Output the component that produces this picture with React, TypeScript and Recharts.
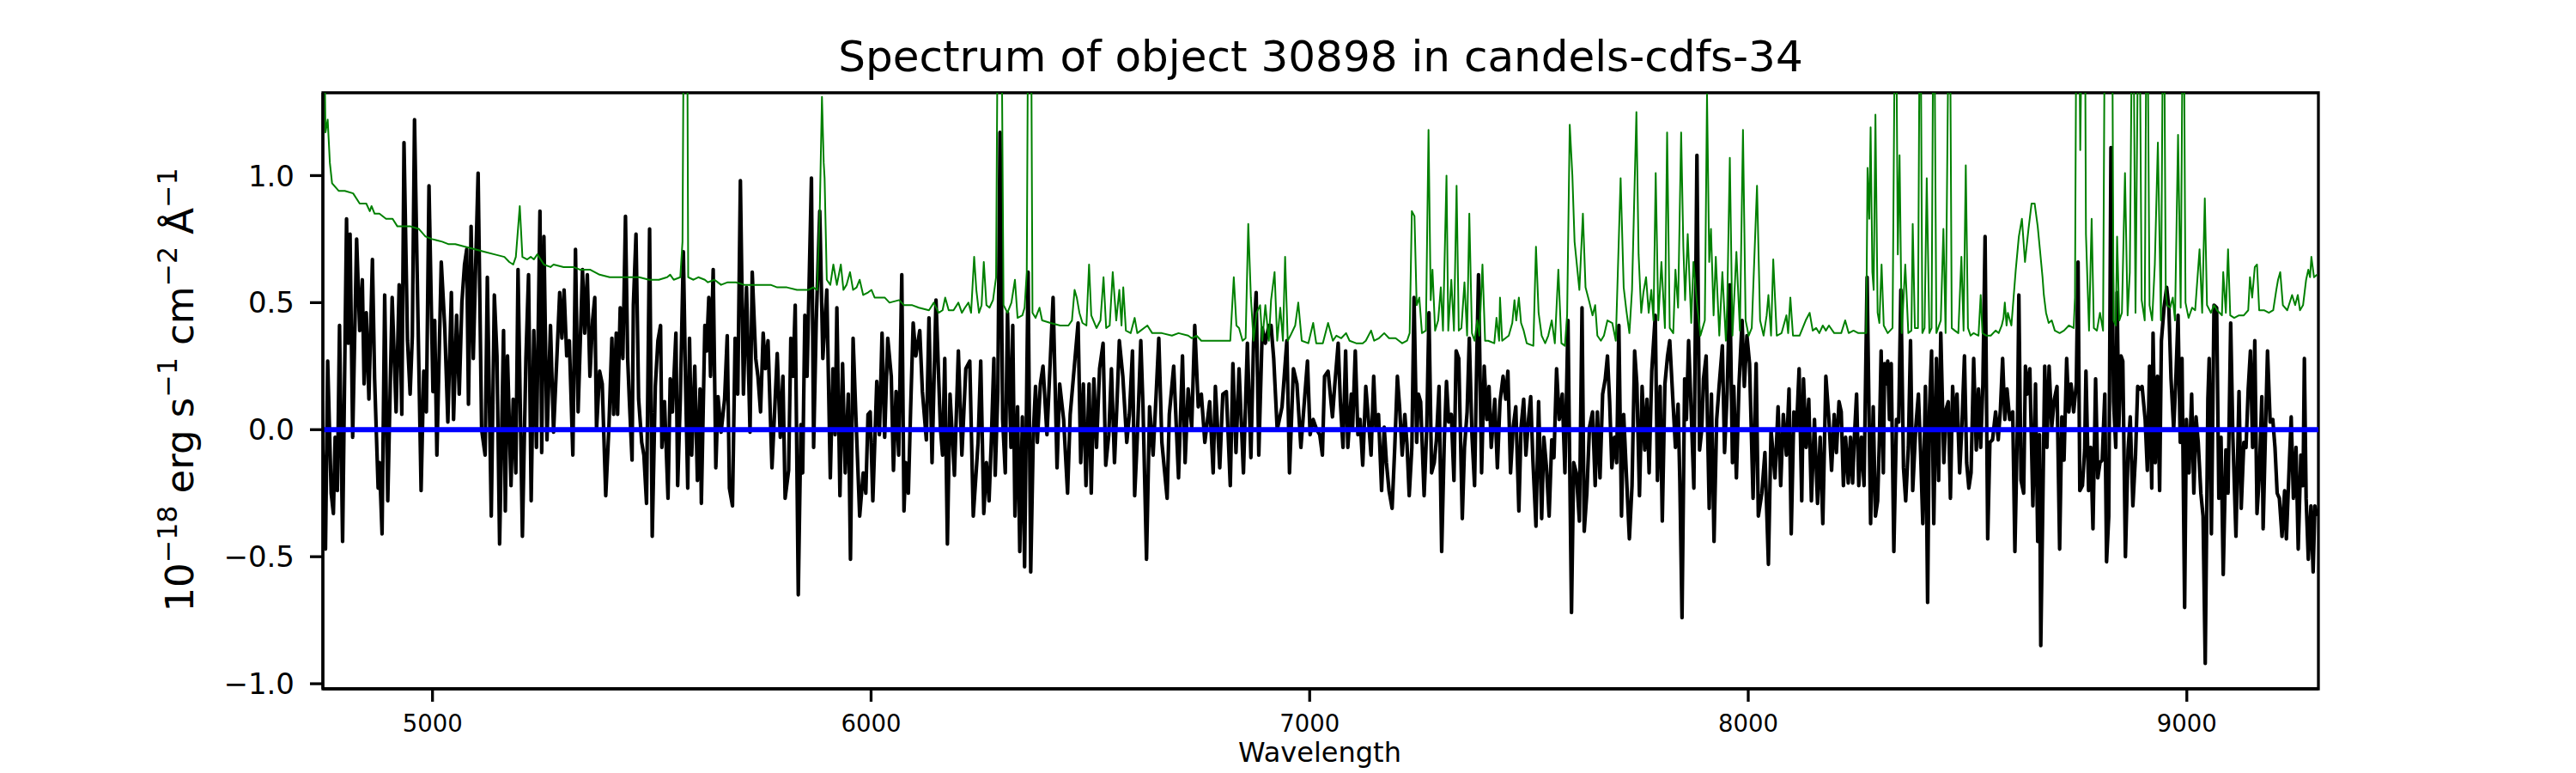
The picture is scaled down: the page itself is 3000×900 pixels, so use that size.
import React from 'react';
import { LineChart, Line, XAxis, YAxis, ReferenceArea } from 'recharts';

const TITLE = 'Spectrum of object 30898 in candels-cdfs-34';
const X_LABEL = 'Wavelength';
const X_TICKS = [5000, 6000, 7000, 8000, 9000];
const Y_TICKS = [-1.0, -0.5, 0.0, 0.5, 1.0];
const X_RANGE: [number, number] = [4750, 9300];
const Y_RANGE: [number, number] = [-1.02, 1.326];

// observed flux (black), [wavelength, flux]
const FLUX_A: [number, number][] = [
  [4748, 0.04], [4756, -0.47], [4761, 0.27], [4769, -0.25], [4774, -0.33], [4778, -0.03], [4783, -0.24], [4788, 0.41],
  [4795, -0.44], [4804, 0.83], [4808, 0.34], [4812, 0.77], [4818, -0.03], [4827, 0.75], [4834, 0.39], [4840, 0.59],
  [4844, 0.18], [4849, 0.46], [4855, 0.12], [4863, 0.67], [4868, 0.2], [4876, -0.23], [4879, -0.13], [4885, -0.41],
  [4891, 0.53], [4898, -0.28], [4908, 0.52], [4917, 0.07], [4924, 0.57], [4930, 0.06], [4935, 1.13], [4943, 0.35],
  [4949, 0.14], [4954, 0.37], [4959, 1.22], [4965, 0.62], [4974, -0.24], [4980, 0.23], [4986, 0.07], [4992, 0.96],
  [5001, 0.15], [5005, 0.43], [5010, -0.1], [5020, 0.66], [5028, 0.4], [5035, 0.03], [5043, 0.54], [5048, 0.04],
  [5055, 0.45], [5061, 0.14], [5067, 0.5], [5073, 0.65], [5078, 0.71], [5082, 0.1], [5088, 0.8], [5093, 0.28],
  [5098, 0.62], [5104, 1.01], [5112, 0.0], [5120, -0.1], [5125, 0.6], [5134, -0.34], [5141, 0.53], [5147, 0.29],
  [5153, -0.45], [5162, 0.39], [5166, -0.32], [5171, 0.29], [5179, -0.22], [5184, 0.12], [5190, -0.17], [5195, 0.63],
  [5205, -0.42], [5213, 0.28], [5219, 0.61], [5225, -0.28], [5231, 0.39], [5237, -0.07], [5245, 0.86], [5249, -0.09],
  [5254, 0.76], [5261, -0.04], [5269, 0.41], [5276, -0.01], [5284, 0.3], [5290, 0.54], [5295, 0.36], [5300, 0.55],
  [5306, 0.29], [5312, 0.35], [5320, -0.1], [5326, 0.71], [5332, 0.07], [5342, 0.63], [5347, 0.38], [5353, 0.61],
  [5359, 0.21], [5365, 0.43], [5370, 0.52], [5374, 0.0], [5381, 0.23], [5387, 0.18], [5395, -0.26], [5402, 0.0],
  [5409, 0.36], [5413, 0.06], [5419, 0.38], [5422, 0.06], [5428, 0.48], [5434, 0.28], [5440, 0.84], [5445, 0.28],
  [5449, 0.11], [5455, -0.12], [5458, 0.49], [5464, 0.77], [5470, 0.12], [5477, -0.05], [5482, -0.1], [5488, -0.29],
  [5495, 0.79], [5501, -0.42], [5508, 0.17], [5514, 0.35], [5520, 0.41], [5523, -0.07], [5529, 0.11], [5537, -0.27],
  [5542, 0.2], [5547, 0.07], [5555, 0.38], [5559, -0.22], [5565, 0.12], [5572, 0.7], [5577, 0.18], [5582, -0.23],
  [5586, 0.36], [5591, -0.1], [5598, 0.25], [5604, -0.2], [5610, 0.16], [5613, -0.29], [5621, 0.41], [5625, 0.31],
  [5630, 0.52], [5634, 0.21], [5640, 0.63], [5646, -0.15], [5651, 0.13], [5658, -0.01], [5666, 0.12], [5672, 0.37],
  [5677, -0.23], [5684, -0.3], [5690, 0.36], [5696, 0.14], [5702, 0.98], [5709, 0.14], [5716, 0.56], [5724, -0.01],
  [5729, 0.62], [5737, 0.28], [5742, 0.21], [5748, 0.07], [5754, 0.38], [5759, 0.24], [5765, 0.35], [5774, -0.15],
  [5780, 0.07], [5786, 0.3], [5793, -0.03], [5799, 0.21], [5804, -0.27], [5812, -0.16], [5817, 0.36], [5822, 0.21],
  [5827, 0.49], [5834, -0.65], [5840, 0.02], [5844, -0.17], [5849, 0.45], [5854, 0.21], [5864, 0.99], [5869, -0.07],
  [5875, 0.43], [5883, 0.86], [5890, 0.28],
];

const FLUX_B: [number, number][] = [
  [5899, 0.55], [5907, -0.19], [5913, 0.24], [5918, -0.02], [5922, 0.48], [5929, -0.26], [5935, 0.26], [5941, -0.17],
  [5948, 0.14], [5953, -0.51], [5959, 0.36], [5965, 0.07], [5974, -0.34], [5982, -0.17], [5988, -0.25], [5993, 0.06],
  [5998, 0.07], [6004, -0.28], [6013, 0.19], [6019, -0.02], [6025, 0.38], [6031, -0.03], [6038, 0.36], [6046, 0.21],
  [6051, -0.16], [6057, 0.15], [6063, -0.1], [6070, 0.61], [6075, -0.32], [6079, -0.13], [6085, -0.25], [6090, 0.07],
  [6096, 0.42], [6102, 0.29], [6111, 0.39], [6117, 0.15], [6126, -0.04], [6132, 0.44], [6139, -0.13], [6148, 0.51],
  [6158, 0.01], [6163, -0.1], [6168, 0.28], [6174, -0.45], [6180, 0.14], [6190, -0.18], [6199, 0.31], [6207, -0.1],
  [6216, 0.24], [6225, 0.27], [6233, -0.34], [6244, -0.05], [6250, 0.27], [6257, -0.33], [6263, -0.13], [6269, -0.28],
  [6274, -0.05], [6280, 0.28], [6283, -0.18], [6289, 0.15], [6294, 1.17], [6300, 0.04], [6306, -0.17], [6311, 0.46],
  [6319, -0.07], [6323, 0.41], [6328, -0.34], [6334, 0.09], [6339, -0.48], [6345, 0.05], [6350, -0.54], [6358, 0.62],
  [6364, -0.56], [6370, -0.01], [6375, 0.17], [6379, -0.05], [6386, 0.18], [6392, 0.25], [6401, -0.02], [6415, 0.52],
  [6424, -0.15], [6430, 0.18], [6439, 0.04], [6448, -0.25], [6454, 0.06], [6461, 0.2], [6472, 0.42], [6478, -0.13],
  [6484, 0.18], [6490, -0.22], [6497, 0.18], [6502, -0.25], [6508, 0.2], [6514, -0.07], [6521, 0.24], [6529, 0.34],
  [6535, -0.14], [6542, -0.02], [6548, 0.24], [6555, -0.13], [6561, 0.12], [6566, 0.35], [6574, 0.21], [6583, -0.05],
  [6589, 0.06], [6596, 0.31], [6601, -0.26], [6607, -0.03], [6615, 0.35], [6620, 0.09], [6628, -0.51], [6635, 0.09],
  [6643, -0.1], [6650, 0.14], [6656, 0.36], [6663, -0.05], [6675, -0.27], [6680, 0.06], [6690, 0.25], [6701, -0.19],
  [6710, 0.29], [6716, -0.13], [6723, 0.16], [6731, 0.01], [6738, 0.41], [6746, 0.09], [6753, 0.14], [6761, -0.05],
  [6772, 0.11], [6780, -0.17], [6785, 0.17], [6795, -0.15], [6802, 0.14], [6810, 0.15], [6819, -0.22], [6825, 0.26],
  [6832, -0.09], [6839, 0.24], [6849, -0.17], [6858, 0.34], [6866, -0.11], [6872, 0.34], [6878, 0.54], [6884, -0.1],
  [6892, 0.4], [6899, 0.34], [6907, 0.41], [6912, 0.41], [6918, 0.28], [6926, 0.0], [6937, 0.09], [6948, 0.35],
  [6954, -0.17], [6963, 0.24], [6971, 0.18], [6980, -0.07], [6987, 0.09], [6995, 0.27], [7001, -0.02], [7008, 0.04],
  [7016, 0.0], [7023, -0.02], [7029, -0.1], [7034, 0.21], [7042, 0.23],
];

const FLUX_C: [number, number][] = [
  [7052, 0.05], [7057, 0.17], [7065, 0.34], [7070, 0.11], [7076, -0.07], [7082, 0.31], [7087, -0.07], [7095, 0.14],
  [7098, 0.01], [7104, 0.31], [7110, -0.02], [7115, 0.04], [7121, -0.14], [7128, 0.17], [7134, 0.04], [7140, -0.1],
  [7146, 0.21], [7151, 0.0], [7157, 0.06], [7164, -0.24], [7170, 0.01], [7175, -0.13], [7181, -0.24], [7188, -0.31],
  [7194, -0.07], [7200, 0.21], [7205, 0.09], [7211, -0.1], [7217, 0.06], [7222, -0.06], [7227, -0.26], [7233, -0.07],
  [7238, 0.52], [7244, -0.05], [7248, 0.14], [7253, 0.11], [7261, -0.26], [7267, 0.01], [7272, 0.46], [7278, -0.17],
  [7284, -0.13], [7289, -0.04], [7295, 0.17], [7301, -0.48], [7307, -0.04], [7312, 0.19], [7317, 0.03], [7323, 0.06],
  [7329, -0.2], [7334, 0.31], [7340, 0.28], [7348, -0.35], [7353, -0.07], [7359, 0.07], [7364, 0.36], [7370, -0.02],
  [7376, -0.22], [7381, 0.28], [7385, 0.61], [7392, -0.17], [7398, 0.25], [7404, 0.04], [7409, 0.17], [7414, -0.07],
  [7422, 0.12], [7428, -0.15], [7434, 0.11], [7441, 0.21], [7447, 0.12], [7452, 0.23], [7458, -0.17], [7464, 0.01],
  [7470, 0.09], [7477, -0.32], [7482, 0.01], [7488, 0.12], [7493, -0.1], [7499, 0.04], [7504, 0.13], [7509, -0.12],
  [7516, -0.38], [7522, 0.11], [7529, -0.35], [7534, -0.03], [7540, -0.15], [7546, -0.34], [7552, -0.04], [7557, -0.11],
  [7563, 0.24], [7569, 0.04], [7576, 0.14], [7582, -0.17], [7589, 0.43], [7597, -0.72], [7602, -0.13], [7608, -0.17],
  [7615, -0.36], [7621, 0.48], [7626, -0.4], [7632, -0.25], [7638, 0.01], [7645, 0.07], [7651, -0.22], [7656, 0.07],
  [7662, -0.19], [7668, 0.14], [7674, 0.2], [7679, 0.29], [7684, 0.11], [7689, -0.15], [7695, -0.03], [7700, -0.13],
  [7705, 0.41], [7711, -0.34], [7716, 0.06], [7722, -0.17], [7729, -0.43], [7735, -0.22], [7741, 0.31], [7746, 0.18],
  [7752, -0.26], [7758, 0.17], [7764, -0.08], [7769, 0.12], [7774, -0.17], [7780, 0.23], [7788, 0.45], [7793, -0.2],
  [7799, 0.17], [7804, -0.36], [7810, 0.18], [7816, 0.29], [7821, 0.35], [7829, 0.09], [7834, -0.07], [7840, 0.1],
  [7844, -0.2], [7849, -0.74], [7855, 0.2], [7859, 0.04], [7864, 0.35], [7870, 0.07], [7876, -0.23], [7883, 1.08],
  [7889, -0.08], [7894, 0.0], [7898, 0.2], [7904, 0.29], [7911, -0.31], [7916, 0.14], [7922, -0.44], [7928, 0.04],
  [7934, 0.18], [7941, 0.33], [7946, -0.09], [7952, 0.15], [7958, 0.57], [7964, -0.13], [7967, 0.17], [7973, -0.19],
  [7979, 0.18], [7986, 0.43], [7991, 0.17], [7997, 0.37], [8003, 0.26], [8011, -0.27], [8018, 0.26], [8023, -0.34],
  [8031, -0.25], [8038, -0.09], [8046, -0.53], [8052, 0.0], [8061, -0.19], [8068, 0.09], [8074, -0.22], [8080, 0.06],
  [8087, -0.1], [8093, 0.16], [8098, -0.41], [8104, 0.07], [8110, 0.0], [8116, 0.24], [8122, -0.28], [8126, 0.2],
  [8132, -0.07], [8138, 0.12], [8144, -0.28], [8151, 0.04], [8158, -0.29], [8164, -0.03], [8170, -0.37], [8177, 0.21],
  [8184, 0.04], [8190, -0.16], [8196, 0.06],
];

const FLUX_D: [number, number][] = [
  [8201, -0.09], [8207, 0.11], [8212, 0.07], [8217, -0.22], [8222, -0.03], [8228, -0.21], [8233, -0.03], [8238, -0.21],
  [8242, -0.03], [8247, 0.14], [8252, -0.22], [8258, -0.03], [8264, -0.22], [8271, 0.6], [8279, -0.37], [8285, 0.09],
  [8290, -0.34], [8295, -0.28], [8299, -0.04], [8303, 0.31], [8308, -0.17], [8311, 0.26], [8315, 0.18], [8318, 0.27],
  [8322, 0.04], [8326, 0.26], [8332, -0.48], [8338, 0.04], [8343, 0.03], [8348, 0.55], [8354, -0.15], [8359, -0.28],
  [8365, -0.07], [8370, 0.35], [8375, -0.24], [8382, 0.01], [8388, 0.14], [8393, -0.09], [8398, -0.37], [8404, 0.17],
  [8409, -0.68], [8413, 0.07], [8418, 0.31], [8423, -0.37], [8429, 0.28], [8434, -0.2], [8439, 0.38], [8446, -0.13],
  [8451, 0.08], [8456, 0.11], [8461, -0.27], [8466, 0.17], [8471, 0.0], [8476, 0.14], [8482, -0.17], [8487, 0.01],
  [8493, 0.29], [8498, -0.13], [8503, -0.23], [8508, -0.17], [8514, 0.28], [8520, -0.08], [8525, 0.16], [8530, -0.07],
  [8535, 0.18], [8540, 0.76], [8546, -0.43], [8551, -0.05], [8557, -0.04], [8564, 0.07], [8570, -0.04], [8575, 0.08],
  [8580, 0.28], [8585, 0.04], [8590, 0.16], [8596, 0.04], [8603, 0.07], [8608, -0.48], [8614, 0.04], [8617, 0.53],
  [8622, -0.2], [8628, -0.25], [8632, 0.25], [8636, 0.14], [8642, 0.24], [8649, -0.3], [8655, 0.18], [8660, -0.44],
  [8664, -0.02], [8667, -0.85], [8672, -0.25], [8676, 0.25], [8681, -0.07], [8686, 0.25], [8692, 0.01], [8698, 0.12],
  [8704, 0.17], [8710, -0.47], [8715, 0.05], [8720, -0.12], [8726, 0.28], [8731, 0.07], [8736, 0.18], [8742, 0.07],
  [8748, 0.18], [8752, 0.66], [8756, -0.24], [8762, -0.22], [8767, -0.08], [8770, 0.23], [8776, -0.24], [8781, -0.07],
  [8786, -0.39], [8792, 0.2], [8797, -0.19], [8802, -0.13], [8807, -0.12], [8813, 0.14], [8817, -0.52], [8822, -0.34],
  [8827, 1.11], [8833, 0.11], [8838, -0.07], [8841, 0.54], [8845, 0.01], [8850, 0.29], [8854, 0.27], [8860, -0.5],
  [8866, -0.08], [8871, 0.05], [8877, -0.3], [8883, -0.1], [8888, 0.17], [8893, 0.16], [8898, 0.17], [8905, 0.04],
  [8910, -0.16], [8915, 0.25], [8920, -0.23], [8923, 0.38], [8928, -0.13], [8933, 0.21], [8938, -0.24], [8942, 0.35],
  [8948, 0.48], [8954, 0.56], [8959, 0.48], [8964, 0.2], [8970, 0.0], [8975, 0.2], [8980, 0.45], [8985, -0.05],
  [8989, 0.28], [8995, -0.7], [8999, 0.04], [9005, -0.17], [9011, 0.14], [9016, -0.25], [9021, 0.05], [9026, -0.05],
  [9032, -0.25], [9037, -0.34], [9042, -0.92], [9048, 0.12], [9051, 0.28], [9056, -0.41], [9062, 0.49], [9068, 0.48],
  [9073, -0.27], [9078, -0.03], [9083, -0.57], [9089, -0.08], [9094, -0.25], [9100, 0.42], [9105, -0.03], [9112, -0.42],
  [9119, 0.15], [9124, -0.31], [9130, -0.05], [9135, -0.07], [9140, 0.16], [9145, 0.31], [9150, -0.07], [9155, 0.35],
  [9160, -0.33], [9165, -0.19], [9171, 0.13], [9174, -0.39], [9179, -0.03], [9184, 0.31], [9190, 0.03], [9196, 0.04],
  [9201, -0.07], [9206, -0.25], [9211, -0.27], [9217, -0.42], [9223, -0.24], [9227, -0.43], [9234, -0.12], [9238, 0.05],
  [9243, -0.27], [9249, -0.07], [9254, -0.47], [9260, -0.1], [9265, -0.22], [9268, 0.28], [9272, -0.27], [9277, -0.51],
  [9283, -0.3], [9288, -0.56], [9292, -0.3], [9297, -0.34],
];

// noise spectrum (green), [wavelength, sigma]; sky lines run off the top
const NOISE_A: [number, number][] = [
  [4750, 2.0], [4756, 1.17], [4761, 1.22], [4766, 1.05], [4771, 0.97], [4786, 0.94], [4800, 0.94], [4819, 0.93],
  [4834, 0.89], [4849, 0.89], [4857, 0.86], [4861, 0.88], [4868, 0.85], [4879, 0.85], [4894, 0.83], [4909, 0.83],
  [4920, 0.8], [4932, 0.8], [4950, 0.8], [4969, 0.79], [4984, 0.76], [4999, 0.75], [5022, 0.74], [5037, 0.73],
  [5052, 0.73], [5074, 0.72], [5097, 0.71], [5119, 0.7], [5141, 0.69], [5164, 0.68], [5175, 0.66], [5184, 0.65],
  [5190, 0.68], [5199, 0.88], [5205, 0.68], [5216, 0.67], [5224, 0.68], [5231, 0.67], [5239, 0.69], [5254, 0.65],
  [5269, 0.64], [5276, 0.65], [5299, 0.64], [5321, 0.64], [5336, 0.63], [5359, 0.63], [5381, 0.61], [5404, 0.6],
  [5426, 0.6], [5449, 0.6], [5471, 0.6], [5494, 0.59], [5516, 0.59], [5535, 0.6], [5542, 0.61], [5550, 0.59],
  [5565, 0.6], [5570, 0.74], [5574, 2.0], [5580, 2.0], [5583, 0.6], [5595, 0.59], [5606, 0.6], [5621, 0.59],
  [5628, 0.58], [5643, 0.59], [5658, 0.57], [5673, 0.58], [5692, 0.58], [5711, 0.57], [5733, 0.57], [5756, 0.57],
  [5771, 0.57], [5786, 0.56], [5808, 0.56], [5831, 0.55], [5857, 0.55], [5868, 0.56], [5877, 0.55], [5883, 0.86],
  [5888, 1.31], [5892, 1.05], [5894, 0.99], [5899, 0.59],
];

const NOISE_B: [number, number][] = [
  [5907, 0.57], [5914, 0.65], [5922, 0.57], [5931, 0.65], [5937, 0.55], [5944, 0.57], [5952, 0.62], [5959, 0.55],
  [5967, 0.56], [5974, 0.59], [5982, 0.53], [5993, 0.54], [6001, 0.55], [6008, 0.52], [6019, 0.52], [6031, 0.52],
  [6042, 0.5], [6064, 0.51], [6075, 0.49], [6094, 0.49], [6109, 0.48], [6132, 0.47], [6143, 0.5], [6154, 0.46],
  [6163, 0.47], [6169, 0.52], [6177, 0.47], [6188, 0.47], [6199, 0.5], [6207, 0.46], [6214, 0.48], [6222, 0.5],
  [6228, 0.46], [6235, 0.68], [6240, 0.55], [6246, 0.46], [6252, 0.49], [6257, 0.66], [6263, 0.49], [6270, 0.48],
  [6278, 0.51], [6285, 0.6], [6290, 2.0], [6296, 2.0], [6302, 0.49], [6311, 0.46], [6320, 0.5], [6328, 0.59],
  [6334, 0.44], [6345, 0.45], [6350, 0.48], [6355, 0.62], [6359, 2.0], [6364, 2.0], [6368, 0.46], [6375, 0.44],
  [6384, 0.48], [6390, 0.43], [6409, 0.42], [6431, 0.41], [6450, 0.41], [6458, 0.43], [6464, 0.55], [6469, 0.52],
  [6475, 0.46], [6482, 0.42], [6491, 0.41], [6497, 0.65], [6502, 0.45], [6514, 0.4], [6523, 0.43], [6530, 0.6],
  [6536, 0.4], [6544, 0.41], [6551, 0.62], [6559, 0.43], [6566, 0.55], [6571, 0.41], [6575, 0.56], [6581, 0.39],
  [6592, 0.38], [6601, 0.44], [6607, 0.38], [6630, 0.41], [6641, 0.38], [6663, 0.38], [6686, 0.37], [6701, 0.38],
  [6723, 0.37], [6731, 0.36], [6742, 0.37], [6753, 0.35], [6783, 0.35], [6819, 0.35], [6827, 0.6], [6833, 0.41],
  [6839, 0.4], [6847, 0.35], [6854, 0.36], [6860, 0.81], [6866, 0.52], [6872, 0.35], [6879, 0.46], [6887, 0.49],
  [6892, 0.35], [6899, 0.49], [6907, 0.35], [6912, 0.51], [6920, 0.62], [6926, 0.35], [6933, 0.48], [6939, 0.35],
  [6944, 0.68], [6950, 0.35], [6956, 0.37], [6967, 0.41], [6974, 0.5], [6982, 0.35], [6997, 0.34], [7008, 0.42],
  [7015, 0.34], [7030, 0.34], [7042, 0.42],
];

const NOISE_C: [number, number][] = [
  [7053, 0.35], [7061, 0.37], [7072, 0.36], [7083, 0.38], [7091, 0.35], [7106, 0.34], [7121, 0.34], [7128, 0.35],
  [7140, 0.39], [7147, 0.35], [7158, 0.36], [7170, 0.38], [7181, 0.36], [7196, 0.36], [7211, 0.34], [7222, 0.35],
  [7228, 0.38], [7233, 0.86], [7239, 0.84], [7244, 0.49], [7250, 0.52], [7256, 0.38], [7265, 0.39], [7271, 1.18],
  [7276, 0.51], [7280, 0.63], [7286, 0.39], [7293, 0.43], [7299, 0.56], [7304, 0.39], [7312, 1.0], [7316, 0.39],
  [7323, 0.59], [7329, 0.39], [7335, 0.96], [7340, 0.39], [7346, 0.4], [7353, 0.58], [7359, 0.37], [7364, 0.85],
  [7370, 0.38], [7376, 0.35], [7382, 0.43], [7387, 0.37], [7394, 0.65], [7400, 0.35], [7407, 0.35], [7421, 0.34],
  [7426, 0.44], [7432, 0.35], [7434, 0.52], [7439, 0.35], [7454, 0.37], [7462, 0.42], [7467, 0.51], [7471, 0.43],
  [7477, 0.52], [7482, 0.42], [7488, 0.39], [7495, 0.34], [7510, 0.33], [7516, 0.72], [7522, 0.46], [7529, 0.37],
  [7537, 0.34], [7544, 0.37], [7552, 0.43], [7559, 0.34], [7567, 0.63], [7574, 0.34], [7582, 0.33], [7587, 0.45],
  [7593, 1.2], [7599, 1.0], [7604, 0.74], [7615, 0.55], [7623, 0.85], [7629, 0.56], [7638, 0.5], [7645, 0.45],
  [7651, 0.49], [7656, 0.37], [7664, 0.35], [7671, 0.37], [7679, 0.43], [7690, 0.42], [7698, 0.35], [7709, 0.99],
  [7716, 0.56], [7722, 0.47], [7729, 0.38], [7735, 0.55], [7745, 1.25], [7750, 0.69], [7756, 0.46], [7761, 0.54],
  [7767, 0.6], [7773, 0.46], [7779, 0.55], [7784, 0.43], [7789, 1.01], [7795, 0.43], [7802, 0.66], [7810, 0.4],
  [7815, 1.17], [7821, 0.4], [7829, 0.38], [7834, 0.63], [7840, 0.48], [7847, 1.17], [7852, 0.72], [7856, 0.51],
  [7862, 0.77], [7870, 0.42], [7875, 0.66], [7883, 0.5], [7891, 0.37], [7901, 0.43], [7906, 1.32], [7911, 0.66],
  [7915, 0.79], [7921, 0.45], [7926, 0.68], [7934, 0.37], [7941, 0.62], [7949, 0.35], [7952, 0.49], [7958, 1.07],
  [7964, 0.37], [7967, 0.48], [7973, 0.7], [7981, 0.39], [7988, 1.18], [7994, 0.43], [8001, 0.37], [8008, 0.4],
  [8020, 0.96], [8027, 0.43], [8035, 0.37], [8042, 0.45], [8046, 0.53], [8052, 0.37], [8057, 0.67], [8065, 0.37],
  [8076, 0.38], [8087, 0.45], [8091, 0.38], [8096, 0.52], [8102, 0.37], [8117, 0.37], [8131, 0.43], [8140, 0.46],
  [8147, 0.39], [8155, 0.4], [8162, 0.38], [8170, 0.41], [8177, 0.39], [8184, 0.41], [8196, 0.38],
];

const NOISE_D: [number, number][] = [
  [8201, 0.38], [8212, 0.38], [8221, 0.43], [8229, 0.38], [8240, 0.39], [8251, 0.38], [8261, 0.38], [8269, 0.38],
  [8272, 1.03], [8276, 0.83], [8279, 1.19], [8283, 0.62], [8286, 0.55], [8290, 1.24], [8295, 0.46], [8299, 0.42],
  [8304, 0.65], [8309, 0.41], [8318, 0.38], [8329, 0.4], [8336, 2.0], [8341, 0.69], [8345, 1.08], [8350, 0.38],
  [8358, 0.65], [8365, 0.38], [8372, 0.39], [8375, 0.81], [8380, 0.4], [8387, 0.4], [8392, 2.0], [8397, 0.38],
  [8402, 0.4], [8407, 0.99], [8413, 0.38], [8418, 0.4], [8423, 2.0], [8429, 0.38], [8439, 0.43], [8445, 0.79],
  [8450, 0.38], [8459, 2.0], [8464, 0.4], [8471, 0.39], [8479, 0.38], [8486, 0.68], [8491, 0.39], [8496, 1.04],
  [8501, 0.4], [8507, 0.37], [8514, 0.38], [8525, 0.37], [8530, 0.53], [8534, 0.38], [8543, 0.37], [8553, 0.37],
  [8564, 0.39], [8571, 0.38], [8578, 0.41], [8582, 0.44], [8585, 0.5], [8589, 0.41], [8592, 0.46], [8600, 0.41],
  [8610, 0.63], [8617, 0.76], [8624, 0.83], [8631, 0.66], [8639, 0.79], [8646, 0.89], [8653, 0.89], [8660, 0.8],
  [8665, 0.71], [8671, 0.6], [8674, 0.53], [8679, 0.46], [8685, 0.42], [8692, 0.43], [8699, 0.39], [8710, 0.38],
  [8720, 0.39], [8731, 0.41], [8742, 0.4], [8745, 0.52], [8749, 2.0], [8753, 2.0], [8757, 1.1], [8763, 2.0],
  [8767, 2.0], [8770, 0.77], [8777, 0.39], [8783, 0.83], [8788, 0.4], [8795, 0.39], [8802, 0.46], [8809, 0.39],
  [8814, 2.0], [8820, 2.0], [8824, 2.0], [8829, 2.0], [8833, 0.43], [8838, 0.41], [8841, 0.76], [8846, 0.43],
  [8852, 0.46], [8859, 1.01], [8865, 0.45], [8870, 0.62], [8877, 2.0], [8883, 0.46], [8891, 2.0], [8897, 0.51],
  [8904, 0.43], [8909, 2.0], [8915, 0.49], [8921, 0.43], [8927, 0.65], [8934, 1.13], [8941, 0.43], [8947, 2.0],
  [8952, 0.54], [8955, 0.49], [8962, 0.48], [8968, 0.52], [8973, 0.43], [8980, 1.16], [8986, 0.48], [8992, 2.0],
  [8997, 0.5], [9004, 0.44], [9012, 0.48], [9019, 0.47], [9029, 0.71], [9035, 0.46], [9041, 0.91], [9046, 0.49],
  [9055, 0.46], [9062, 0.49], [9069, 0.47], [9080, 0.45], [9083, 0.62], [9089, 0.46], [9094, 0.71], [9099, 0.45],
  [9108, 0.44], [9119, 0.45], [9130, 0.45], [9140, 0.47], [9144, 0.6], [9149, 0.52], [9155, 0.64], [9160, 0.65],
  [9165, 0.47], [9176, 0.47], [9187, 0.46], [9197, 0.47], [9204, 0.55], [9208, 0.59], [9213, 0.62], [9219, 0.49],
  [9229, 0.47], [9240, 0.53], [9247, 0.49], [9253, 0.53], [9258, 0.47], [9265, 0.49], [9272, 0.59], [9277, 0.63],
  [9281, 0.6], [9284, 0.68], [9290, 0.6], [9297, 0.61],
];

// model (blue), flat at zero across the band
const MODEL: [number, number][] = [[4750, 0], [9300, 0]];

const rows = (pairs: [number, number][]) => pairs.map(([w, v]) => ({ w, v }));

const fluxData = rows([...FLUX_A, ...FLUX_B, ...FLUX_C, ...FLUX_D]);
const noiseData = rows([...NOISE_A, ...NOISE_B, ...NOISE_C, ...NOISE_D]);
const modelData = rows(MODEL);

const FONT = '"DejaVu Sans", sans-serif';
const SPINE = { stroke: '#000', strokeWidth: 3.3 };

const fmtY = (v: number) => (v < 0 ? '\u2212' : '') + Math.abs(v).toFixed(1);

export default function App() {
  return (
    <div style={{ position: 'absolute', left: 0, top: 0, width: 3000, height: 900, background: '#fff' }}>
      <LineChart
        width={3000}
        height={900}
        margin={{ top: 108, right: 300, bottom: 38, left: 296 }}
        style={{ fontFamily: FONT }}
      >
        <XAxis
          dataKey="w"
          type="number"
          domain={X_RANGE}
          allowDataOverflow
          ticks={X_TICKS}
          height={60}
          axisLine={SPINE}
          tickLine={SPINE}
          tickSize={15}
          tickMargin={15}
          tick={{ fontSize: 27.5, fill: '#000', fontFamily: FONT }}
        />
        <YAxis
          type="number"
          domain={Y_RANGE}
          allowDataOverflow
          ticks={Y_TICKS}
          width={80}
          axisLine={SPINE}
          tickLine={SPINE}
          tickSize={15}
          tickMargin={18}
          tickFormatter={fmtY}
          tick={{ fontSize: 34, fill: '#000', fontFamily: FONT }}
        />
        <Line
          data={fluxData}
          dataKey="v"
          type="linear"
          stroke="#000000"
          strokeWidth={4.2}
          strokeLinejoin="round"
          dot={false}
          activeDot={false}
          isAnimationActive={false}
        />
        <Line
          data={noiseData}
          dataKey="v"
          type="linear"
          stroke="#008000"
          strokeWidth={2}
          strokeLinejoin="round"
          dot={false}
          activeDot={false}
          isAnimationActive={false}
        />
        <Line
          data={modelData}
          dataKey="v"
          type="linear"
          stroke="#0000ff"
          strokeWidth={6.2}
          dot={false}
          activeDot={false}
          isAnimationActive={false}
        />
        {/* axes frame (top and right spines) */}
        <ReferenceArea
          x1={X_RANGE[0]}
          x2={X_RANGE[1]}
          y1={Y_RANGE[0]}
          y2={Y_RANGE[1]}
          fill="none"
          fillOpacity={0}
          stroke="#000"
          strokeWidth={3.3}
          strokeOpacity={1}
          ifOverflow="visible"
        />
      </LineChart>
      <svg
        width={3000}
        height={900}
        style={{ position: 'absolute', left: 0, top: 0, pointerEvents: 'none', fontFamily: FONT }}
      >
        <text x={1538} y={83} textAnchor="middle" fontSize={50} fill="#000">
          {TITLE}
        </text>
        <text x={1537} y={887} textAnchor="middle" fontSize={32} fill="#000">
          {X_LABEL}
        </text>
        <text x={225} y={454} transform="rotate(-90 225 454)" textAnchor="middle" fontSize={45} fill="#000">
          10
          <tspan fontSize={31.5} dy={-19}>{'\u221218'}</tspan>
          <tspan dy={19}> erg s</tspan>
          <tspan fontSize={31.5} dy={-19}>{'\u22121'}</tspan>
          <tspan dy={19}> cm</tspan>
          <tspan fontSize={31.5} dy={-19}>{'\u22122'}</tspan>
          <tspan dy={19}> Å</tspan>
          <tspan fontSize={31.5} dy={-19}>{'\u22121'}</tspan>
        </text>
      </svg>
    </div>
  );
}
